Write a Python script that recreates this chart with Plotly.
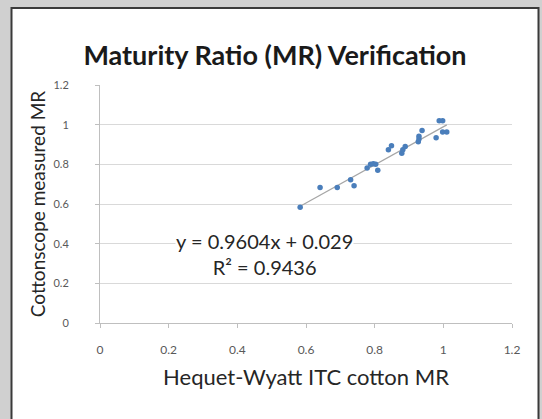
import plotly.graph_objects as go

# Data
hw_mr = [0.583, 0.641, 0.691, 0.730, 0.740, 0.778, 0.788, 0.796, 0.803, 0.809,
         0.840, 0.849, 0.879, 0.882, 0.889, 0.927, 0.929, 0.929, 0.938, 0.979,
         0.988, 0.998, 0.998, 1.010]
cs_mr = [0.584, 0.683, 0.683, 0.722, 0.692, 0.781, 0.801, 0.803, 0.801, 0.770,
         0.874, 0.894, 0.856, 0.874, 0.890, 0.914, 0.928, 0.941, 0.970, 0.934,
         1.020, 1.020, 0.963, 0.963]
slope = 0.9604
intercept = 0.029
r_squared = 0.9436
tick_vals = [0, 0.2, 0.4, 0.6, 0.8, 1.0, 1.2]
tick_text = ["0", "0.2", "0.4", "0.6", "0.8", "1", "1.2"]

W, H = 542, 419
ML, MR, MT, MB = 100, 30, 85, 96
PW = W - ML - MR
PH = H - MT - MB


def px_x(p):
    return (p - ML) / PW


def px_y(p):
    return (H - MB - p) / PH


FONT = "Lato"

fig = go.Figure()

# trendline
tx = [min(hw_mr), max(hw_mr)]
ty = [slope * v + intercept for v in tx]
fig.add_trace(go.Scatter(x=tx, y=ty, mode="lines",
                         line=dict(color="#a6a6a6", width=1.2),
                         hoverinfo="skip", showlegend=False))
fig.add_trace(go.Scatter(x=hw_mr, y=cs_mr, mode="markers",
                         marker=dict(color="#4a7ebb", size=5.5),
                         showlegend=False))

# panel
fig.add_shape(type="rect", xref="paper", yref="paper",
              x0=px_x(11.5), x1=px_x(538.5), y0=px_y(440), y1=px_y(8),
              fillcolor="white", line=dict(color="#3a3a3a", width=2),
              layer="below")

fig.add_annotation(x=0.48, y=0.348, xref="x", yref="y",
                   text=f"y = {slope}x + {intercept}<br>R² = {r_squared}",
                   showarrow=False, align="center", borderpad=0,
                   bgcolor="white", font=dict(family=FONT, size=20, color="#262626"))

fig.update_layout(
    width=W, height=H,
    margin=dict(l=ML, r=MR, t=MT, b=MB),
    paper_bgcolor="#d0d0d0",
    plot_bgcolor="rgba(0,0,0,0)",
    title=dict(text="<b>Maturity Ratio (MR) Verification</b>",
               x=275 / W, xanchor="center", xref="container",
               y=1 - 56 / H, yanchor="middle", yref="container",
               font=dict(family=FONT, size=27, color="#1a1a1a")),
    xaxis=dict(range=[0, 1.2], tickvals=tick_vals, ticktext=tick_text,
               showgrid=False, zeroline=False, showline=True,
               linecolor="#bfbfbf", linewidth=1, ticks="outside",
               ticklen=4, tickcolor="#bfbfbf", ticklabelstandoff=12,
               tickfont=dict(family=FONT, size=12, color="#595959"),
               title=dict(text="Hequet-Wyatt ITC cotton MR", standoff=13,
                          font=dict(family=FONT, size=22, color="#262626"))),
    yaxis=dict(range=[0, 1.2], tickvals=tick_vals, ticktext=tick_text,
               showgrid=True, gridcolor="#d9d9d9", gridwidth=1,
               zeroline=False, showline=True,
               linecolor="#bfbfbf", linewidth=1, ticks="outside",
               ticklen=4, tickcolor="#bfbfbf", ticklabelstandoff=24,
               tickfont=dict(family=FONT, size=11, color="#595959"),
               title=dict(text="Cottonscope measured MR", standoff=2,
                          font=dict(family=FONT, size=19, color="#262626"))),
)

fig.write_html("out.html", config={"displayModeBar": False},
               post_script="document.body.style.margin='0';document.body.style.overflow='hidden';")
